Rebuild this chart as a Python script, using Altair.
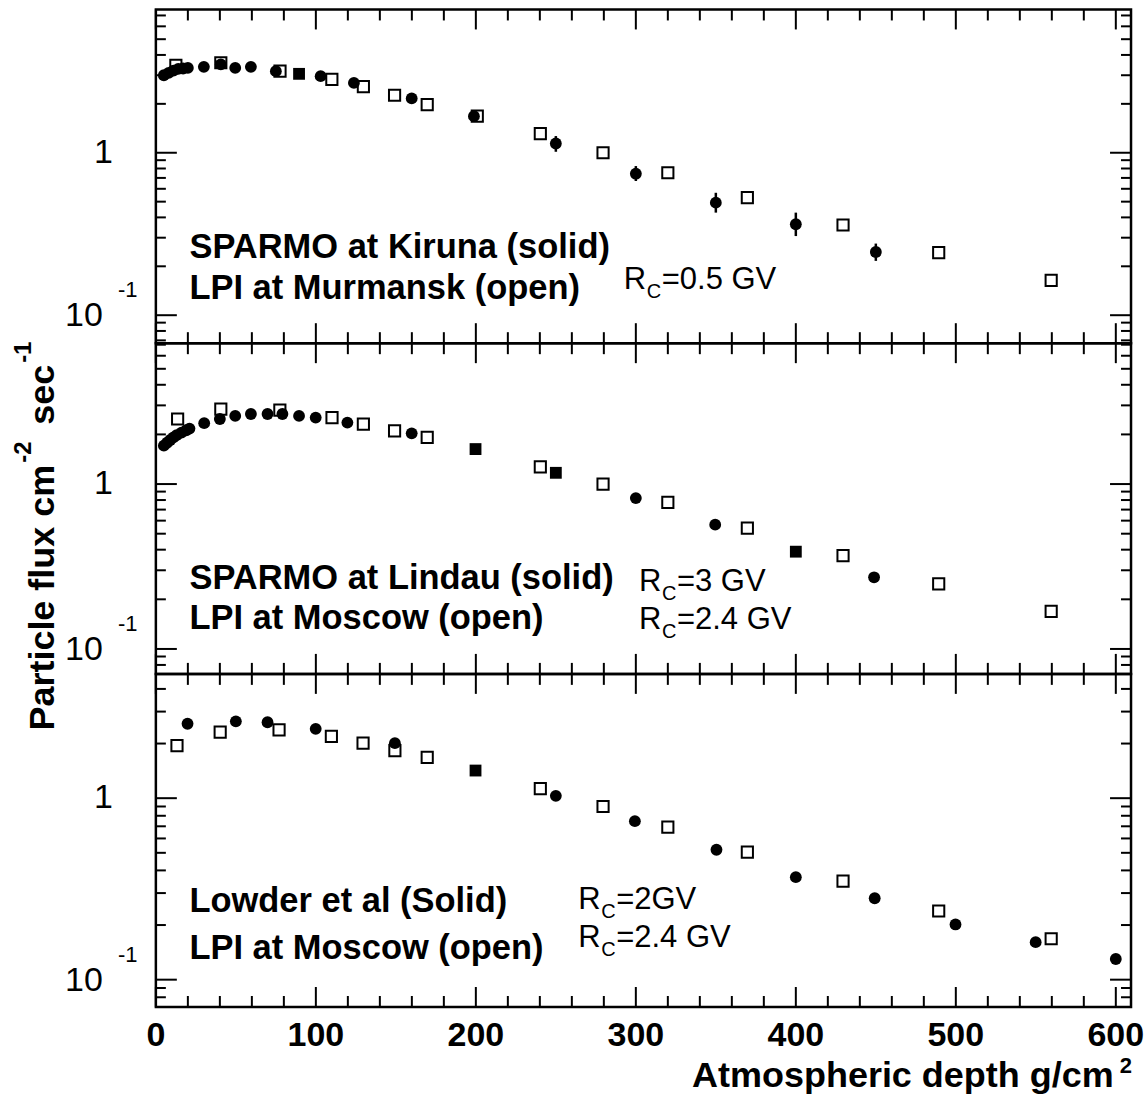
import altair as alt
import pandas as pd

# ---------------------------------------------------------------- axes ----
DEPTH_MAX = 609.5
X_MAJOR = [0, 100, 200, 300, 400, 500, 600]
X_MINOR = [20, 40, 60, 80, 120, 140, 160, 180, 220, 240, 260, 280,
           320, 340, 360, 380, 420, 440, 460, 480, 520, 540, 560, 580]
Y_DECADES = [0.01, 0.1, 1.0, 10.0]
Y_MANTISSA = [2, 3, 4, 5, 6, 7, 8, 9]

# ------------------------------------------------- panel 1: Kiruna / Murmansk
KIR_DEPTH = [5, 8, 11, 14, 17, 20, 30, 40.6, 49.6, 59.4, 75, 89.5, 103, 123.8,
             159.9, 198.8, 250, 300, 350, 400, 450]
KIR_FLUX = [3.0, 3.1, 3.2, 3.28, 3.3, 3.33, 3.38, 3.5, 3.33, 3.38, 3.18, 3.06,
            2.96, 2.69, 2.16, 1.68, 1.14, 0.743, 0.493, 0.363, 0.245]
KIR_SHAPE = ["circle"] * 11 + ["square"] + ["circle"] * 9
KIR_ERR_DEPTH = [250, 300, 350, 400, 450]
KIR_ERR_LO = [1.014, 0.670, 0.428, 0.307, 0.216]
KIR_ERR_HI = [1.267, 0.828, 0.567, 0.428, 0.276]
MUR_DEPTH = [12.5, 40.6, 77.6, 110, 129.7, 149.2, 169.6, 200.9, 240.3, 279.5,
             320, 369.7, 429.5, 489.3, 559.6]
MUR_FLUX = [3.45, 3.58, 3.18, 2.83, 2.55, 2.26, 1.98, 1.68, 1.31, 1.0,
            0.753, 0.529, 0.359, 0.243, 0.164]

# -------------------------------------------------- panel 2: Lindau / Moscow
LIN_DEPTH = [5, 7, 9, 11, 13, 16, 19, 21, 30.2, 40, 49.6, 59.4, 69.8, 79.1,
             89.5, 99.9, 119.7, 159.9, 199.8, 250, 300, 349.6, 400, 448.9]
LIN_FLUX = [1.71, 1.78, 1.85, 1.92, 1.98, 2.05, 2.12, 2.17, 2.34, 2.48, 2.59,
            2.66, 2.66, 2.66, 2.59, 2.53, 2.36, 2.03, 1.63, 1.17, 0.822,
            0.567, 0.389, 0.272]
LIN_SHAPE = ["circle"] * 18 + ["square", "square", "circle", "circle",
                               "square", "circle"]
MOS_DEPTH = [13.6, 40.6, 77.5, 110.1, 129.7, 149.2, 169.6, 240.3, 279.5, 320,
             369.7, 429.5, 489.3, 559.6]
MOS_FLUX = [2.48, 2.85, 2.81, 2.53, 2.31, 2.10, 1.92, 1.27, 1.0, 0.774,
            0.541, 0.368, 0.248, 0.169]

# -------------------------------------------------- panel 3: Lowder / Moscow
LOW_DEPTH = [19.8, 50, 69.8, 99.9, 149.4, 199.8, 250, 299.4, 350.4, 400,
             449.3, 499.8, 549.9, 600]
LOW_FLUX = [2.57, 2.65, 2.62, 2.41, 2.01, 1.42, 1.03, 0.747, 0.52, 0.367,
            0.281, 0.2015, 0.161, 0.130]
LOW_SHAPE = ["circle"] * 5 + ["square"] + ["circle"] * 8
MOS2_DEPTH = [13.2, 40.2, 77, 109.7, 129.5, 149.4, 169.6, 240.3, 279.5, 320,
              369.7, 429.5, 489.3, 559.6]
MOS2_FLUX = [1.95, 2.31, 2.38, 2.19, 2.01, 1.83, 1.68, 1.13, 0.90, 0.692,
             0.504, 0.349, 0.239, 0.168]

FONT = "Liberation Sans"
W = 976


def txt(rows, **mark):
    """Free text placed in pixel coordinates of a panel."""
    df = pd.DataFrame(rows, columns=["px", "py", "t"])
    return alt.Chart(df).mark_text(font=FONT, color="black", **mark).encode(
        x=alt.X("px:Q", scale=None), y=alt.Y("py:Q", scale=None),
        text="t:N")


def rc_label(x, base, value):
    return [
        txt([[x, base, "R"]], fontSize=31, align="left", baseline="alphabetic"),
        txt([[x + 23, base + 9, "C"]], fontSize=20, align="left",
            baseline="alphabetic"),
        txt([[x + 38, base, value]], fontSize=31, align="left",
            baseline="alphabetic"),
    ]


def panel(h, ydom, solid, opened, legend, legend_base, rc, err=None,
          x_labels=False, y_title=False):
    xs = alt.Scale(domain=[0, DEPTH_MAX], nice=False)
    ys = alt.Scale(type="log", domain=ydom, nice=False)

    def X(f):
        return alt.X(f, type="quantitative", scale=xs, axis=None)

    def Y(f):
        return alt.Y(f, type="quantitative", scale=ys, axis=None)

    lo, hi = ydom
    y_major = [v for v in Y_DECADES if lo <= v <= hi]
    y_minor = [m * d for d in Y_DECADES for m in Y_MANTISSA if lo <= m * d <= hi]
    rule = dict(color="black", strokeWidth=2)
    layers = []
    # inward ticks on all four sides
    for vals, ln in [(X_MAJOR, 20), (X_MINOR, 11)]:
        df = pd.DataFrame({"d": vals})
        layers.append(alt.Chart(df).mark_rule(**rule).encode(
            x=X("d"), y=alt.value(0), y2=alt.value(ln)))
        layers.append(alt.Chart(df).mark_rule(**rule).encode(
            x=X("d"), y=alt.value(h), y2=alt.value(h - ln)))
    for vals, ln in [(y_major, 21), (y_minor, 10)]:
        df = pd.DataFrame({"v": vals})
        layers.append(alt.Chart(df).mark_rule(**rule).encode(
            y=Y("v"), x=alt.value(0), x2=alt.value(ln)))
        layers.append(alt.Chart(df).mark_rule(**rule).encode(
            y=Y("v"), x=alt.value(W), x2=alt.value(W - ln)))

    # y tick labels: 1 and 10^-1
    layers.append(alt.Chart(pd.DataFrame({"v": [1.0], "t": ["1"]})).mark_text(
        font=FONT, fontSize=34, align="right", baseline="middle",
        color="black", dx=-43).encode(y=Y("v"), x=alt.value(0), text="t:N"))
    layers.append(alt.Chart(pd.DataFrame({"v": [0.1], "t": ["10"]})).mark_text(
        font=FONT, fontSize=34, align="right", baseline="middle",
        color="black", dx=-53, dy=1).encode(y=Y("v"), x=alt.value(0),
                                            text="t:N"))
    layers.append(alt.Chart(pd.DataFrame({"v": [0.1], "t": ["-1"]})).mark_text(
        font=FONT, fontSize=22, align="left", baseline="middle",
        color="black", dx=-38, dy=-25).encode(y=Y("v"), x=alt.value(0),
                                              text="t:N"))

    if err is not None:
        edf = pd.DataFrame({"d": err[0], "lo": err[1], "hi": err[2]})
        layers.append(alt.Chart(edf).mark_rule(color="black",
                                               strokeWidth=2.5).encode(
            x=X("d"), y=Y("lo"), y2=alt.Y2("hi")))

    sdf = pd.DataFrame({"d": solid[0], "v": solid[1], "s": solid[2]})
    layers.append(alt.Chart(sdf).mark_point(
        filled=True, color="black", opacity=1, size=140).encode(
        x=X("d"), y=Y("v"), shape=alt.Shape("s:N", scale=None)))
    odf = pd.DataFrame({"d": opened[0], "v": opened[1]})
    layers.append(alt.Chart(odf).mark_point(
        shape="square", filled=False, color="black", opacity=1,
        strokeWidth=2, size=125).encode(x=X("d"), y=Y("v")))

    layers.append(txt([[33.6, legend_base[0], legend[0]],
                       [33.6, legend_base[1], legend[1]]],
                      fontSize=34.5, fontWeight="bold", align="left",
                      baseline="alphabetic"))
    for x, base, value in rc:
        layers += rc_label(x, base, value)

    if x_labels:
        ldf = pd.DataFrame({"d": X_MAJOR, "t": [str(v) for v in X_MAJOR]})
        layers.append(alt.Chart(ldf).mark_text(
            font=FONT, fontSize=34, fontWeight="bold", align="center",
            baseline="alphabetic", color="black").encode(
            x=X("d"), y=alt.value(h + 39), text="t:N"))
        layers.append(txt([[958.6, h + 80, "Atmospheric depth g/cm"]],
                          fontSize=36, fontWeight="bold", align="right",
                          baseline="alphabetic"))
        layers.append(txt([[977, h + 66, "2"]], fontSize=22,
                          fontWeight="bold", align="right",
                          baseline="alphabetic"))
    if y_title:
        rot = dict(angle=270, align="left", baseline="alphabetic",
                   fontWeight="bold")
        layers.append(txt([[-102.2, 387.7, "Particle flux cm"]],
                          fontSize=36, **rot))
        layers.append(txt([[-124.9, 119.7, "-2"]], fontSize=24, **rot))
        layers.append(txt([[-102.2, 81.7, "sec"]], fontSize=36, **rot))
        layers.append(txt([[-124.9, 19.7, "-1"]], fontSize=24, **rot))

    return alt.layer(*layers).properties(width=W, height=h)


top = panel(
    334, [0.06727, 7.62],
    (KIR_DEPTH, KIR_FLUX, KIR_SHAPE), (MUR_DEPTH, MUR_FLUX),
    ["SPARMO at Kiruna (solid)", "LPI at Murmansk (open)"], [248.7, 289.7],
    [(468.3, 280, "=0.5 GV")],
    err=(KIR_ERR_DEPTH, KIR_ERR_LO, KIR_ERR_HI))

middle = panel(
    331, [0.0706, 7.15],
    (LIN_DEPTH, LIN_FLUX, LIN_SHAPE), (MOS_DEPTH, MOS_FLUX),
    ["SPARMO at Lindau (solid)", "LPI at Moscow (open)"], [246, 286],
    [(483.5, 247.7, "=3 GV"), (483.5, 286, "=2.4 GV")],
    y_title=True)

bottom = panel(
    333.4, [0.0707, 4.84],
    (LOW_DEPTH, LOW_FLUX, LOW_SHAPE), (MOS2_DEPTH, MOS2_FLUX),
    ["Lowder et al (Solid)", "LPI at Moscow (open)"], [238.4, 285],
    [(422.7, 235, "=2GV"), (422.7, 273.4, "=2.4 GV")],
    x_labels=True)

chart = alt.vconcat(top, middle, bottom, spacing=0, bounds="flush").configure_view(
    stroke="black", strokeWidth=2.5
).properties(
    padding={"left": 10, "top": 6, "right": 0, "bottom": 0},
    background="white",
)

chart.save("out.html", embed_options={"renderer": "svg", "actions": False})
